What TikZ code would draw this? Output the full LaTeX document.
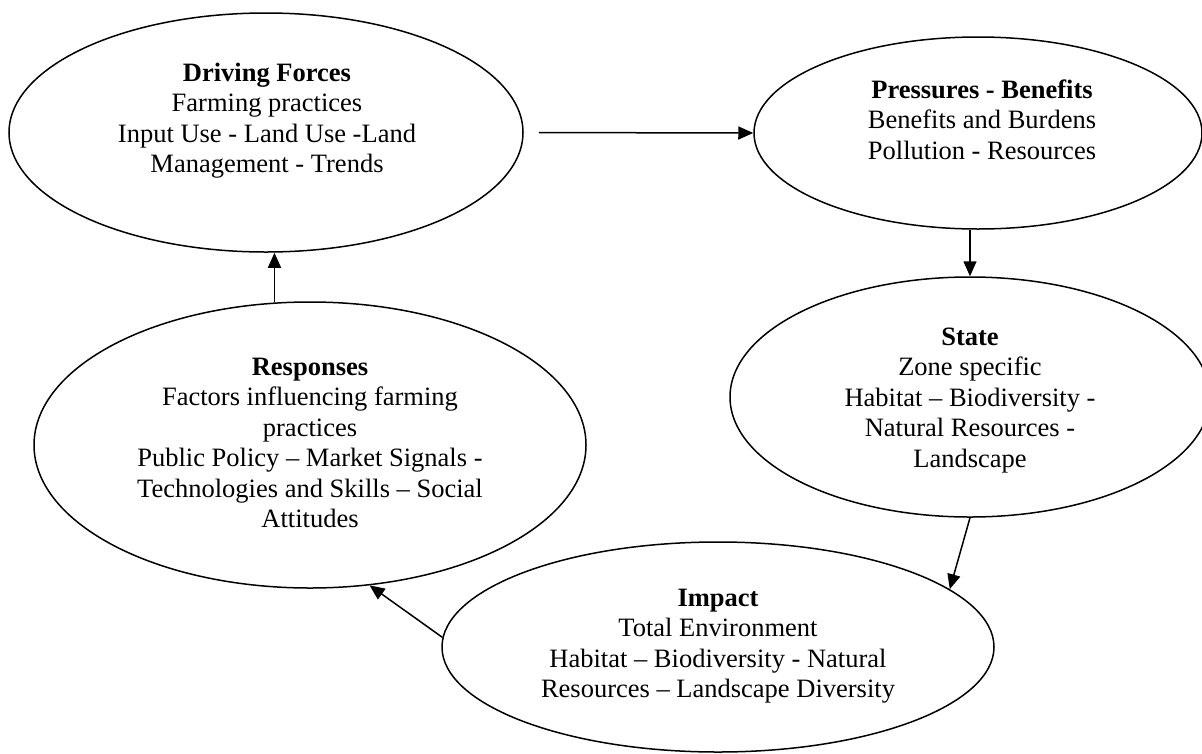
\documentclass[tikz,border=0pt]{standalone}
\usepackage{fontspec}
\setmainfont{Liberation Serif}
\usetikzlibrary{shapes.geometric,arrows.meta}
\begin{document}
\begin{tikzpicture}[x=1pt,y=-1pt,
  oval/.style={ellipse,draw,line width=1.5pt,inner sep=0pt},
  txt/.style={align=center,inner sep=0pt,font=\fontsize{26.5}{30.5}\selectfont},
  arr/.style={line width=1.5pt,-{Triangle[length=15pt,width=13pt]}}]
\useasboundingbox (0,0) rectangle (1202,753);
% ellipses
\node[oval,minimum width=514pt,minimum height=239pt] (df) at (266,132.5) {};
\node[oval,minimum width=448pt,minimum height=192pt] (pb) at (978,133) {};
\node[oval,minimum width=480pt,minimum height=240pt] (st) at (970,397) {};
\node[oval,minimum width=552pt,minimum height=286pt] (rs) at (310,445) {};
\node[oval,minimum width=552pt,minimum height=210pt] (im) at (718,647) {};
% texts
\node[txt] (dft) at (267,120.6) {\textbf{Driving Forces}\\Farming practices\\Input Use - Land Use -Land\\Management - Trends};
\node[txt] (pbt) at (982,119.4) {\textbf{Pressures - Benefits}\\Benefits and Burdens\\Pollution - Resources};
\node[txt] (stt) at (970,400.4) {\textbf{State}\\Zone specific\\Habitat – Biodiversity -\\Natural Resources -\\Landscape};
\node[txt] (rst) at (310,443) {\textbf{Responses}\\Factors influencing farming\\practices\\Public Policy – Market Signals -\\Technologies and Skills – Social\\Attitudes};
\node[txt] (imt) at (718,646) {\textbf{Impact}\\Total Environment\\Habitat – Biodiversity - Natural\\Resources – Landscape Diversity};
% connectors
\draw[arr,shorten <=15pt] (df.east) -- (pb.west);
\draw[arr] (pb.south -| st.north) -- (st.north);
\draw[arr] (st.south) -- (im.14.7);
\draw[arr] (im.178) -- (rs.-67);
\draw[arr] (rs.104) -- (rs.104 |- df.south);
\end{tikzpicture}
\end{document}
